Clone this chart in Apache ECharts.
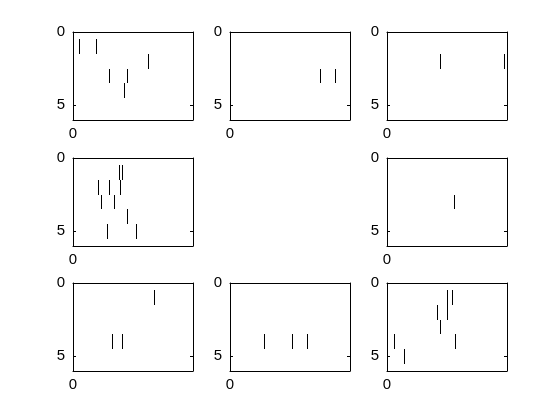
<!DOCTYPE html>
<html><head><meta charset="utf-8">
<script src="https://cdn.jsdelivr.net/npm/echarts@6/dist/echarts.min.js"></script>
<style>html,body{margin:0;padding:0;background:#fff}#c{width:560px;height:420px}</style>
</head><body><div id="c"></div>
<script>
// Spike times (percent of the time window) and trial numbers, one pair per panel
const p1Times=[5.3,19.3,62.8,30.2,44.7,42.7];
const p1Trials=[1,1,2,3,3,4];
const p2Times=[75.1,87.5];
const p2Trials=[3,3];
const p3Times=[44.2,97.5];
const p3Trials=[2,2];
const p4Times=[38.6,40.8,21.2,29.6,39.4,23.5,34.4,45.3,28.5,52.2];
const p4Trials=[1,1,2,2,2,3,3,4,5,5];
const p5Times=null; // empty panel
const p5Trials=null;
const p6Times=[56.1];
const p6Trials=[3];
const p7Times=[67.3,32.7,41.1];
const p7Trials=[1,4,4];
const p8Times=[28.3,51.7,64.2];
const p8Trials=[4,4,4];
const p9Times=[50.3,54.2,50.3,41.9,44.2,5.8,56.9,14.2];
const p9Trials=[1,1,2,2,3,4,4,5];
const yTickLabels=[0,5];
const xTickLabels=[0];

const allTimes=[p1Times,p2Times,p3Times,p4Times,p5Times,p6Times,p7Times,p8Times,p9Times];
const allTrials=[p1Trials,p2Trials,p3Trials,p4Trials,p5Trials,p6Trials,p7Trials,p8Trials,p9Trials];

const colLefts=[73,230,387], rowTops=[32,158,283], W=120, H=88;
const font={fontFamily:'Liberation Sans, Arial, sans-serif',fontSize:15,color:'#000'};
const lineStyle={color:'#000',width:1};
const grid=[],xAxis=[],yAxis=[],series=[];
let g=0;
for(let i=0;i<9;i++){
  if(!allTimes[i]) continue;
  const r=Math.floor(i/3), c=i%3;
  grid.push({left:colLefts[c],top:rowTops[r],width:W,height:H,show:false,containLabel:false});
  xAxis.push({gridIndex:g,type:'value',position:'bottom',min:0,max:100,interval:100,
    axisLine:{show:true,onZero:false,lineStyle},axisTick:{show:true,inside:true,length:3,lineStyle},
    splitLine:{show:false},
    axisLabel:Object.assign({margin:6,formatter:v=>xTickLabels.includes(v)?String(v):''},font)});
  xAxis.push({gridIndex:g,type:'value',position:'top',min:0,max:100,interval:100,
    axisLine:{show:true,onZero:false,lineStyle},axisTick:{show:false},axisLabel:{show:false},splitLine:{show:false}});
  yAxis.push({gridIndex:g,type:'value',position:'left',inverse:true,min:0,max:6,interval:5,
    axisLine:{show:true,onZero:false,lineStyle},axisTick:{show:true,inside:true,length:3,lineStyle},
    splitLine:{show:false},
    axisLabel:Object.assign({margin:8,formatter:v=>yTickLabels.includes(v)?String(v):''},font)});
  yAxis.push({gridIndex:g,type:'value',position:'right',inverse:true,min:0,max:6,interval:5,
    axisLine:{show:true,onZero:false,lineStyle},axisTick:{show:true,inside:true,length:3,lineStyle},
    axisLabel:{show:false},splitLine:{show:false}});
  const data=allTimes[i].map((t,k)=>[t,allTrials[i][k]]);
  series.push({type:'custom',xAxisIndex:2*g,yAxisIndex:2*g,data,encode:{x:0,y:1},
    renderItem:function(params,api){
      const t=api.value(0), tr=api.value(1);
      const a=api.coord([t,tr-0.5]), b=api.coord([t,tr+0.5]);
      const x=Math.round(a[0])+0.5;
      return {type:'line',shape:{x1:x,y1:Math.round(a[1]),x2:x,y2:Math.round(b[1])},
        style:{stroke:'#000',lineWidth:1}};
    }});
  g++;
}
const chart=echarts.init(document.getElementById('c'),null,{renderer:'canvas'});
chart.setOption({animation:false,backgroundColor:'#fff',grid,xAxis,yAxis,series});
</script>
</body></html>
